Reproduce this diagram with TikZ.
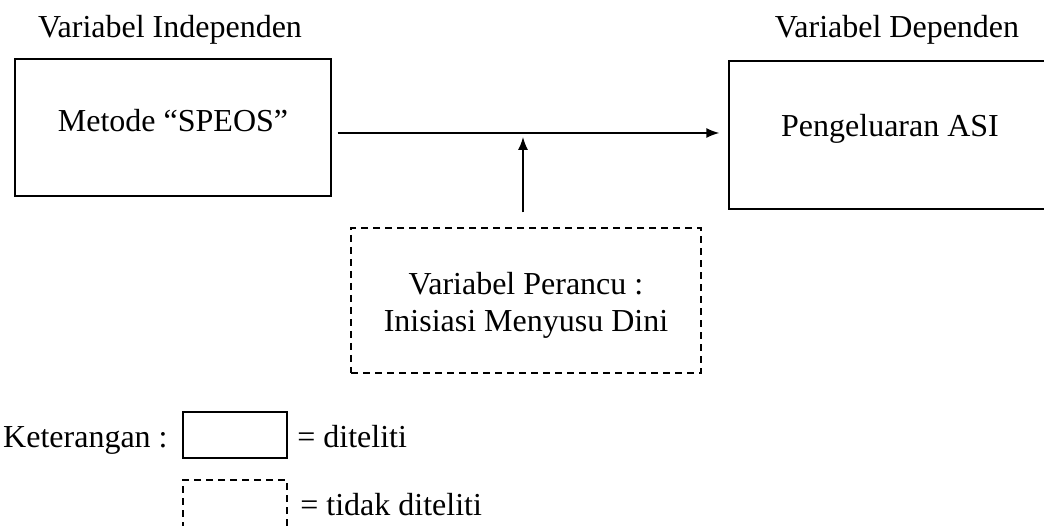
\documentclass[tikz,border=0pt]{standalone}
\usepackage{fontspec}
\setmainfont{Liberation Serif}
\usepackage{tikz}
\usetikzlibrary{positioning}
\usetikzlibrary{arrows.meta}

\begin{document}
\begin{tikzpicture}[x=1pt,y=-1pt,>={Latex[length=13pt,width=10pt]},line width=1.4pt,
    font=\fontsize{32}{37}\selectfont,
    varbox/.style={draw,rectangle,inner sep=0pt,align=center},
    dashbox/.style={varbox,dash pattern=on 7pt off 5pt},
    lbl/.style={inner sep=0pt}]
  \useasboundingbox (0,0) rectangle (1044,526);

  \node[varbox,minimum width=316pt,minimum height=137pt,text height=22pt,text depth=13pt] (Indep) at (173,127.5) {Metode “SPEOS”};
  \node[varbox,minimum width=322pt,minimum height=148pt,text height=22pt,text depth=18pt] (Dep) at (890,135) {Pengeluaran ASI};
  \node[dashbox,minimum width=350pt,minimum height=145pt] (Perancu) at (526,300.5)
    {\rule{0pt}{34pt}Variabel Perancu :\\Inisiasi Menyusu Dini\rule[-8pt]{0pt}{8pt}};
  \node[lbl,anchor=base] (IndepLbl) at (170,38) {Variabel Independen};
  \node[lbl,anchor=base] (DepLbl)   at (897,37.5) {Variabel Dependen};
  \coordinate (Mid) at (523,133);

  \draw[->] ([shift={(6pt,-5.5pt)}]Indep.east) -- ([shift={(-9pt,2pt)}]Dep.west);
  \draw[->] ([yshift=15pt]Perancu.north -| Mid) -- ([yshift=-4pt]Mid);

  % keterangan
  \node[varbox,minimum width=104pt,minimum height=46pt] (Solid) at (235,435) {};
  \node[dashbox,minimum width=104pt,minimum height=50pt] (Dashed) at (235,505) {};
  \node[lbl,anchor=base east] (Ket) at ([xshift=-14pt]Solid.west |- 0,447) {Keterangan :};
  \node[lbl,anchor=base west] (SolidLbl) at ([xshift=9pt]Solid.east |- 0,447) {= diteliti};
  \node[lbl,anchor=base west] (DashedLbl) at ([xshift=12pt]Dashed.east |- 0,515) {= tidak diteliti};
\end{tikzpicture}
\end{document}
